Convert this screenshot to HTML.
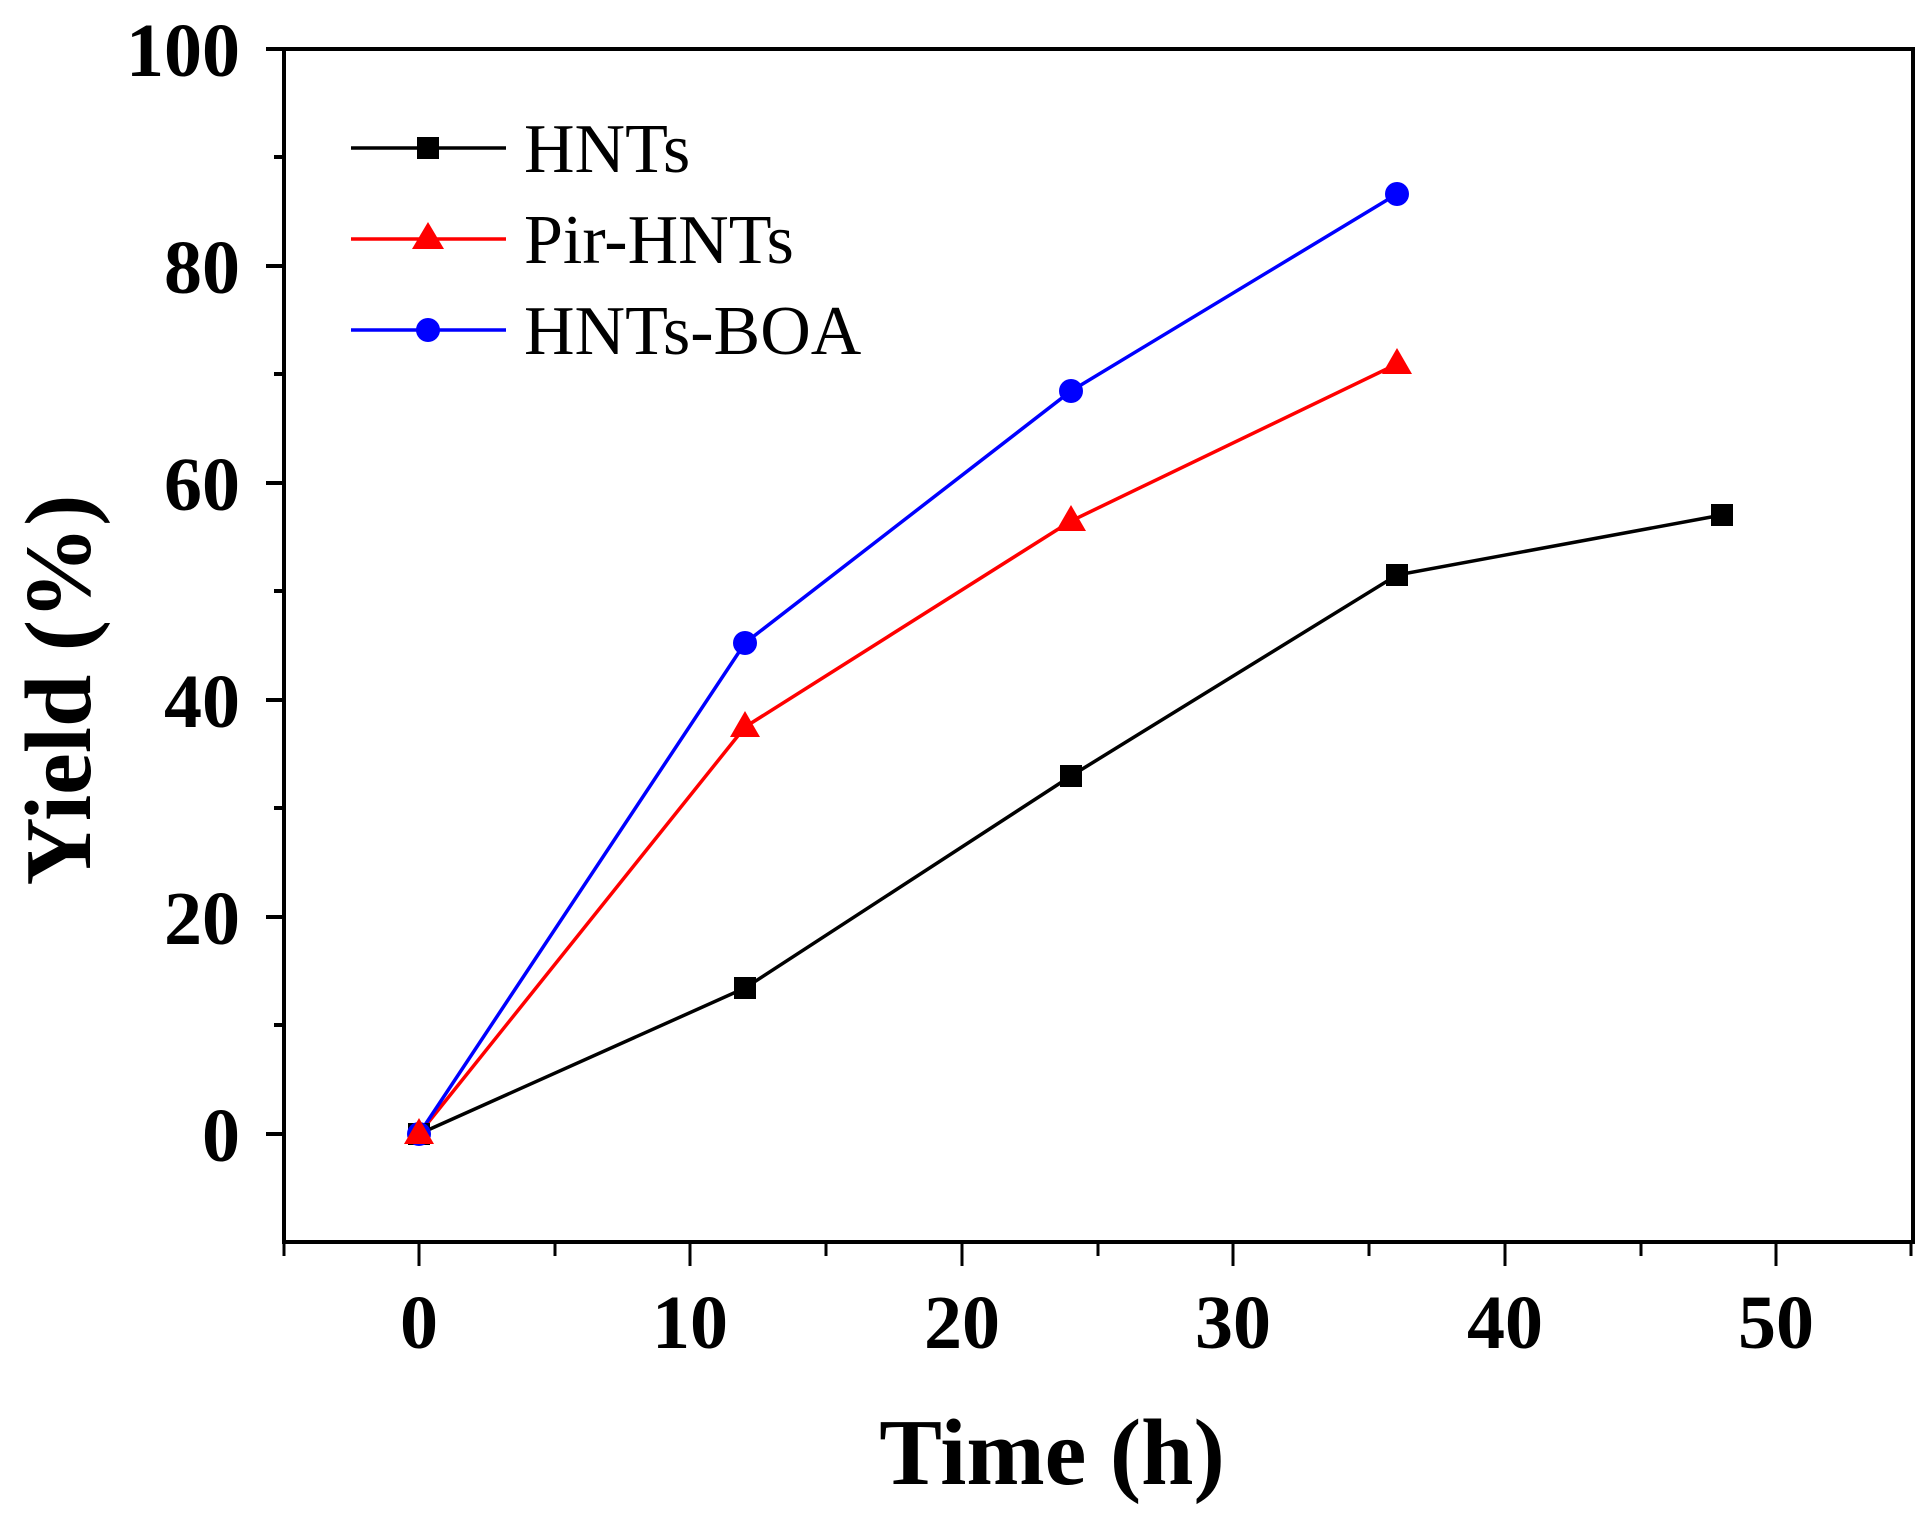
<!DOCTYPE html>
<html><head><meta charset="utf-8"><style>html,body{margin:0;padding:0;background:#fff}</style></head><body>
<svg width="1930" height="1519" viewBox="0 0 1930 1519" xmlns="http://www.w3.org/2000/svg" font-family="'Liberation Serif', serif">
<rect width="1930" height="1519" fill="#fff"/>
<rect x="284" y="49" width="1629" height="1193" fill="none" stroke="#000" stroke-width="4"/>
<g stroke="#000" stroke-width="4">
<line x1="266" y1="49" x2="284" y2="49"/><line x1="266" y1="266" x2="284" y2="266"/><line x1="266" y1="483" x2="284" y2="483"/><line x1="266" y1="700" x2="284" y2="700"/><line x1="266" y1="917" x2="284" y2="917"/><line x1="266" y1="1134" x2="284" y2="1134"/>
<line x1="274" y1="157" x2="284" y2="157"/><line x1="274" y1="374" x2="284" y2="374"/><line x1="274" y1="591" x2="284" y2="591"/><line x1="274" y1="808" x2="284" y2="808"/><line x1="274" y1="1025" x2="284" y2="1025"/>
</g>
<g stroke="#000" stroke-width="3">
<line x1="284" y1="1242" x2="284" y2="1256"/>
<line x1="419" y1="1242" x2="419" y2="1266"/><line x1="690" y1="1242" x2="690" y2="1266"/><line x1="962" y1="1242" x2="962" y2="1266"/><line x1="1233" y1="1242" x2="1233" y2="1266"/><line x1="1505" y1="1242" x2="1505" y2="1266"/><line x1="1776" y1="1242" x2="1776" y2="1266"/>
<line x1="555" y1="1242" x2="555" y2="1256"/><line x1="826" y1="1242" x2="826" y2="1256"/><line x1="1098" y1="1242" x2="1098" y2="1256"/><line x1="1369" y1="1242" x2="1369" y2="1256"/><line x1="1641" y1="1242" x2="1641" y2="1256"/><line x1="1911" y1="1242" x2="1911" y2="1256"/>
</g>
<g font-weight="bold" font-size="76" text-anchor="end">
<text x="240" y="76">100</text><text x="240" y="293">80</text><text x="240" y="510">60</text><text x="240" y="727">40</text><text x="240" y="944">20</text><text x="240" y="1161">0</text>
</g>
<g font-weight="bold" font-size="76" text-anchor="middle">
<text x="419" y="1348">0</text><text x="690" y="1348">10</text><text x="962" y="1348">20</text><text x="1233" y="1348">30</text><text x="1505" y="1348">40</text><text x="1776" y="1348">50</text>
</g>
<text x="1052" y="1484" font-weight="bold" font-size="94" text-anchor="middle">Time (h)</text>
<text transform="translate(90,690) rotate(-90)" font-weight="bold" font-size="94" text-anchor="middle">Yield (%)</text>
<polyline fill="none" stroke="#000" stroke-width="3.5" points="419,1134 745,988 1071,776 1397,575 1722,515"/>
<polyline fill="none" stroke="#f00" stroke-width="3.5" points="419,1134 745,727 1071,521 1397,364"/>
<polyline fill="none" stroke="#00f" stroke-width="3.5" points="419,1134 745,643 1071,391 1397,194"/>
<g fill="#000"><rect x="408" y="1123" width="22" height="22"/><rect x="734" y="977" width="22" height="22"/><rect x="1060" y="765" width="22" height="22"/><rect x="1386" y="564" width="22" height="22"/><rect x="1711" y="504" width="22" height="22"/></g>
<g fill="#00f"><circle cx="419" cy="1134" r="12"/><circle cx="745" cy="643" r="12"/><circle cx="1071" cy="391" r="12"/><circle cx="1397" cy="194" r="12"/></g>
<g fill="#f00"><polygon points="419,1118 404,1144 434,1144"/><polygon points="745,711 730,737 760,737"/><polygon points="1071,505 1056,531 1086,531"/><polygon points="1397,348 1382,374 1412,374"/></g>
<line x1="351" y1="148" x2="506" y2="148" stroke="#000" stroke-width="3.5"/><rect x="417" y="137" width="22" height="22" fill="#000"/>
<text x="524" y="172" font-size="70">HNTs</text>
<line x1="351" y1="239" x2="506" y2="239" stroke="#f00" stroke-width="3.5"/><polygon points="428,222 412,249 444,249" fill="#f00"/>
<text x="524" y="263" font-size="70">Pir-HNTs</text>
<line x1="351" y1="330" x2="506" y2="330" stroke="#00f" stroke-width="3.5"/><circle cx="428" cy="330" r="12" fill="#00f"/>
<text x="524" y="354" font-size="70">HNTs-BOA</text>
</svg>
</body></html>
